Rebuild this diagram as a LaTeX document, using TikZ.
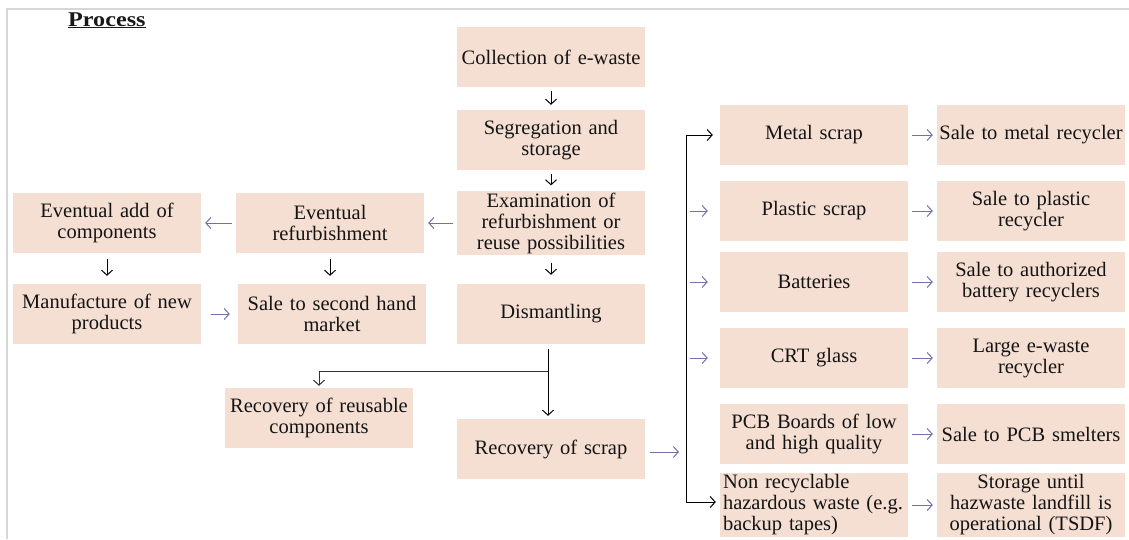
\documentclass[tikz,border=0pt]{standalone}
\usepackage{fontspec}
\setmainfont{Liberation Serif}
\usetikzlibrary{arrows.meta}

\definecolor{boxfill}{RGB}{245,223,211}
\definecolor{flowblue}{RGB}{112,112,172}
\definecolor{framegray}{RGB}{214,214,214}

\begin{document}
\begin{tikzpicture}[x=1pt, y=-1pt,
        box/.style={fill=boxfill, minimum width=188pt, minimum height=60pt, inner sep=2pt,
            text width=184pt, align=center, text=black!92, font=\fontsize{20.5}{21}\selectfont},
        flow/.style={black, line width=1pt, -{Straight Barb[length=5pt, width=11pt]}},
        side/.style={flowblue, line width=1pt, -{Straight Barb[length=5pt, width=11pt]},
            shorten <=4pt, shorten >=4pt}]
        \useasboundingbox (0,0) rectangle (1129,539);
        \draw[framegray, line width=2pt] (7,539) -- (7,9) -- (1129,9);
        \node[anchor=base west, text=black!90, inner sep=0pt] (title) at (68,26)
            {\scalebox{1.15}[1]{\fontsize{21}{21}\selectfont\bfseries\underline{Process}}};

        \coordinate (bus) at (686,0);
        \coordinate (split) at (548,371);

        % main flow
        \node[box] (collect) at (551,57) {Collection of e-waste};
        \node[box] (segregate) at (551,140) {Segregation and\\storage};
        \node[box] (examine) at (551,223) {Examination of\\refurbishment or\\reuse possibilities};
        \node[box] (dismantle) at (551,314) {Dismantling};
        \node[box] (scrap) at (551,449) {Recovery of scrap};
        \node[box] (reuse) at (319,418) {Recovery of reusable\\components};

        % reuse branch
        \node[box] (refurb) at (330,223) {Eventual\\refurbishment};
        \node[box] (addcomp) at (107,223) {Eventual add of\\components};
        \node[box] (manufacture) at (107,314) {Manufacture of new\\products};
        \node[box] (secondhand) at (332,314) {Sale to second hand\\market};

        % scrap fractions
        \node[box] (metal) at (814,135) {Metal scrap};
        \node[box] (plastic) at (814,211) {Plastic scrap};
        \node[box] (battery) at (814,282) {Batteries};
        \node[box] (crt) at (814,358) {CRT glass};
        \node[box] (pcb) at (814,434) {PCB Boards of low\\and high quality};
        \node[box, align=left, inner xsep=3pt, text width=182pt] (hazard) at (814,505)
            {Non recyclable\\hazardous waste (e.g.\\backup tapes)};

        \node[box] (metalsale) at (1031,135) {Sale to metal recycler};
        \node[box] (plasticsale) at (1031,211) {Sale to plastic\\recycler};
        \node[box] (batterysale) at (1031,282) {Sale to authorized\\battery recyclers};
        \node[box] (crtsale) at (1031,358) {Large e-waste\\recycler};
        \node[box] (pcbsale) at (1031,434) {Sale to PCB smelters};
        \node[box] (hazardsale) at (1031,505) {Storage until\\hazwaste landfill is\\operational (TSDF)};

        \draw[flow, shorten <=4pt, shorten >=5pt] (collect) -- (segregate);
        \draw[flow, shorten <=4pt, shorten >=5pt] (segregate) -- (examine);
        \draw[flow, shorten <=7pt, shorten >=9pt] (examine) -- (dismantle);
        \draw[flow, shorten <=6pt, shorten >=8pt] (addcomp) -- (manufacture);
        \draw[flow, shorten <=6pt, shorten >=8pt] (refurb) -- ([xshift=-2pt]secondhand.north);
        \draw[side] (examine) -- (refurb);
        \draw[side] (refurb) -- (addcomp);
        \draw[side, shorten <=10pt, shorten >=8pt] (manufacture) -- (secondhand);

        \draw[flow, shorten <=5pt, shorten >=3pt] ([xshift=-3pt]dismantle.south) -- ([xshift=-3pt]scrap.north);
        \draw[flow, black!80, shorten >=2pt] (split) -| (reuse.north);

        \draw[side, shorten <=5pt, shorten >=7pt] ([yshift=-3pt]scrap.east) -- ([yshift=-3pt]scrap.east -| bus);
        \draw[flow, shorten >=7pt] (metal.west -| bus) -- (metal.west);
        \draw[flow, shorten >=4pt] (metal.west -| bus) -- ([yshift=3pt]hazard.west -| bus) -- ([yshift=3pt]hazard.west);
        \foreach \n in {plastic, battery, crt}
            \draw[side, shorten >=12pt] (\n.west -| bus) -- (\n.west);
        \foreach \a/\b in {metal/metalsale, plastic/plasticsale, battery/batterysale,
                crt/crtsale, pcb/pcbsale, hazard/hazardsale}
            \draw[side] (\a) -- (\b);
\end{tikzpicture}
\end{document}
